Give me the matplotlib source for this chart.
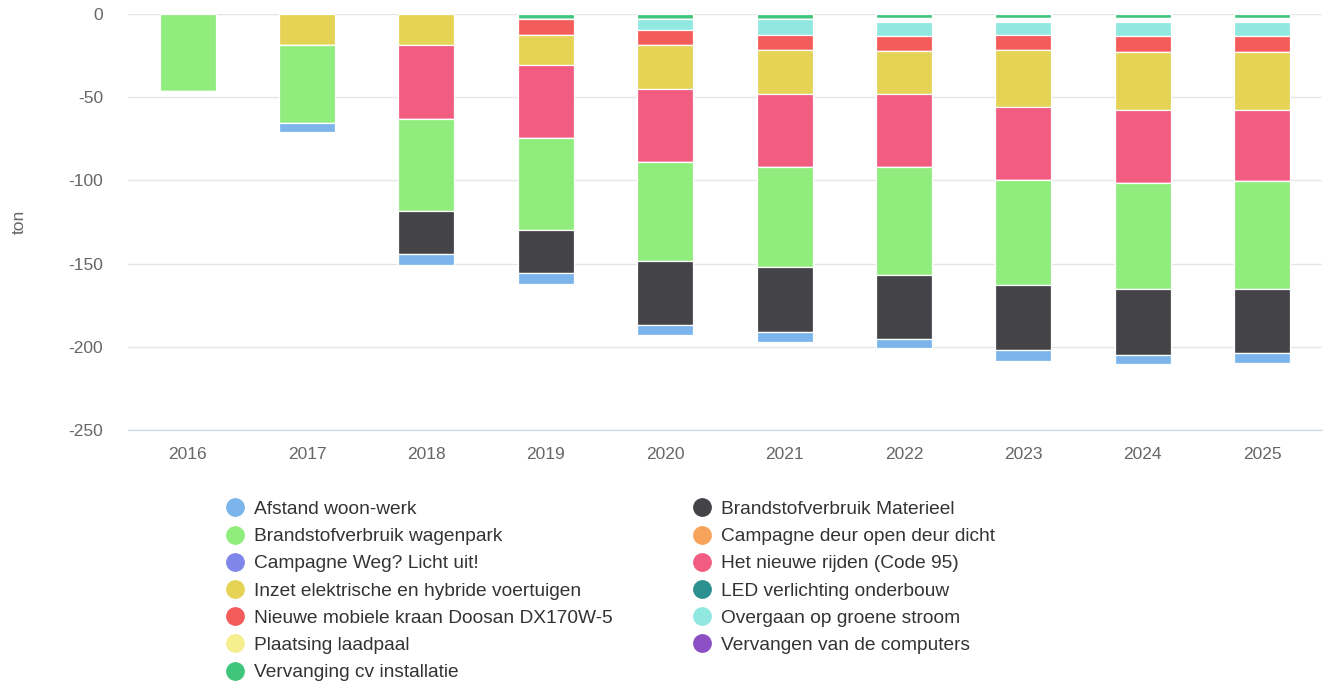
import numpy as np
import matplotlib
matplotlib.use("Agg")
import matplotlib.pyplot as plt
from matplotlib.lines import Line2D

plt.rcParams['font.family'] = ['Liberation Sans', 'DejaVu Sans']
plt.rcParams['axes.unicode_minus'] = False

years = ['2016', '2017', '2018', '2019', '2020', '2021', '2022', '2023', '2024', '2025']

# reductions in ton (negative = saving)
afstand = [0, -5.3, -6.4, -6.2, -6.2, -5.8, -5.4, -6.4, -5.6, -5.8]
materieel = [0, 0, -25.8, -26.0, -38.4, -39.2, -38.4, -38.8, -39.4, -38.4]
wagenpark = [-46.5, -46.7, -55.4, -55.4, -59.2, -60.0, -64.8, -63.4, -63.8, -64.8]
deur = [0] * 10
weg_licht = [0] * 10
nieuwe_rijden = [0, 0, -44.7, -43.6, -43.8, -43.6, -43.6, -43.6, -43.6, -42.6]
inzet = [0, -18.9, -18.4, -18.0, -26.4, -26.4, -26.0, -34.6, -35.2, -35.2]
led = [0] * 10
kraan = [0, 0, 0, -10.0, -9.2, -9.4, -8.8, -9.0, -9.2, -9.2]
groene_stroom = [0, 0, 0, 0, -7.0, -9.6, -8.7, -7.7, -8.7, -8.7]
laadpaal = [0] * 10
computers = [0] * 10
cv = [0, 0, 0, -2.9, -2.7, -2.9, -2.4, -2.4, -2.4, -2.4]
# white gap seen between cv and groene stroom from 2022 on
leeg = [0, 0, 0, 0, 0, 0, -2.4, -2.4, -2.4, -2.4]

series = [
    ('Afstand woon-werk', afstand, '#7cb5ec'),
    ('Brandstofverbruik Materieel', materieel, '#434348'),
    ('Brandstofverbruik wagenpark', wagenpark, '#90ed7d'),
    ('Campagne deur open deur dicht', deur, '#f7a35c'),
    ('Campagne Weg? Licht uit!', weg_licht, '#8085e9'),
    ('Het nieuwe rijden (Code 95)', nieuwe_rijden, '#f15c80'),
    ('Inzet elektrische en hybride voertuigen', inzet, '#e4d354'),
    ('LED verlichting onderbouw', led, '#2b908f'),
    ('Nieuwe mobiele kraan Doosan DX170W-5', kraan, '#f45b5b'),
    ('Overgaan op groene stroom', groene_stroom, '#91e8e1'),
    ('Plaatsing laadpaal', laadpaal, '#f5ef8d'),
    ('Vervangen van de computers', computers, '#8d4fc4'),
    ('Vervanging cv installatie', cv, '#3fc67c'),
]

fig = plt.figure(figsize=(13.23, 6.84), dpi=100)
ax = fig.add_axes([0.0967, 0.3713, 0.9025, 0.6082])

x = np.arange(len(years))
bottom = np.zeros(len(years))
# stack from zero downwards: last series sits next to the zero line
stack = list(reversed(series))
stack.insert(1, ('', leeg, '#ffffff'))
for name, vals, col in stack:
    v = np.array(vals, dtype=float)
    ax.bar(x, v, 0.47, bottom=bottom, color=col, edgecolor='white', linewidth=0.9, zorder=3)
    bottom = bottom + v

ax.set_xlim(-0.5, 9.5)
ax.set_ylim(-250, 0)
ax.set_yticks([0, -50, -100, -150, -200, -250])
ax.set_xticks(x)
ax.set_xticklabels(years)
ax.yaxis.grid(True, color='#e6e6e6', linewidth=1, zorder=0)
for s in ['top', 'right', 'left']:
    ax.spines[s].set_visible(False)
ax.spines['bottom'].set_color('#ccd6eb')
ax.spines['bottom'].set_zorder(4)
ax.tick_params(axis='y', length=0, pad=18, labelsize=12.5, labelcolor='#666666')
ax.tick_params(axis='x', length=0, pad=12, labelsize=12.5, labelcolor='#666666')
ax.set_ylabel('ton', fontsize=12.5, color='#666666')
ax.yaxis.set_label_coords(-0.0845, 0.5)

# legend filled row by row like the original
order = list(range(0, 13, 2)) + list(range(1, 13, 2))
handles = [Line2D([], [], marker='o', linestyle='', markersize=12.5,
                  markerfacecolor=series[i][2], markeredgecolor=series[i][2]) for i in order]
labels = [series[i][0] for i in order]
fig.legend(handles, labels, ncol=2, loc='upper left', bbox_to_anchor=(0.1635, 0.282),
           frameon=False, fontsize=13.8, labelcolor='#333333', handletextpad=0.45,
           columnspacing=4.2, labelspacing=0.51, handlelength=1.0, borderpad=0)

fig.savefig('out.png', dpi=100)
